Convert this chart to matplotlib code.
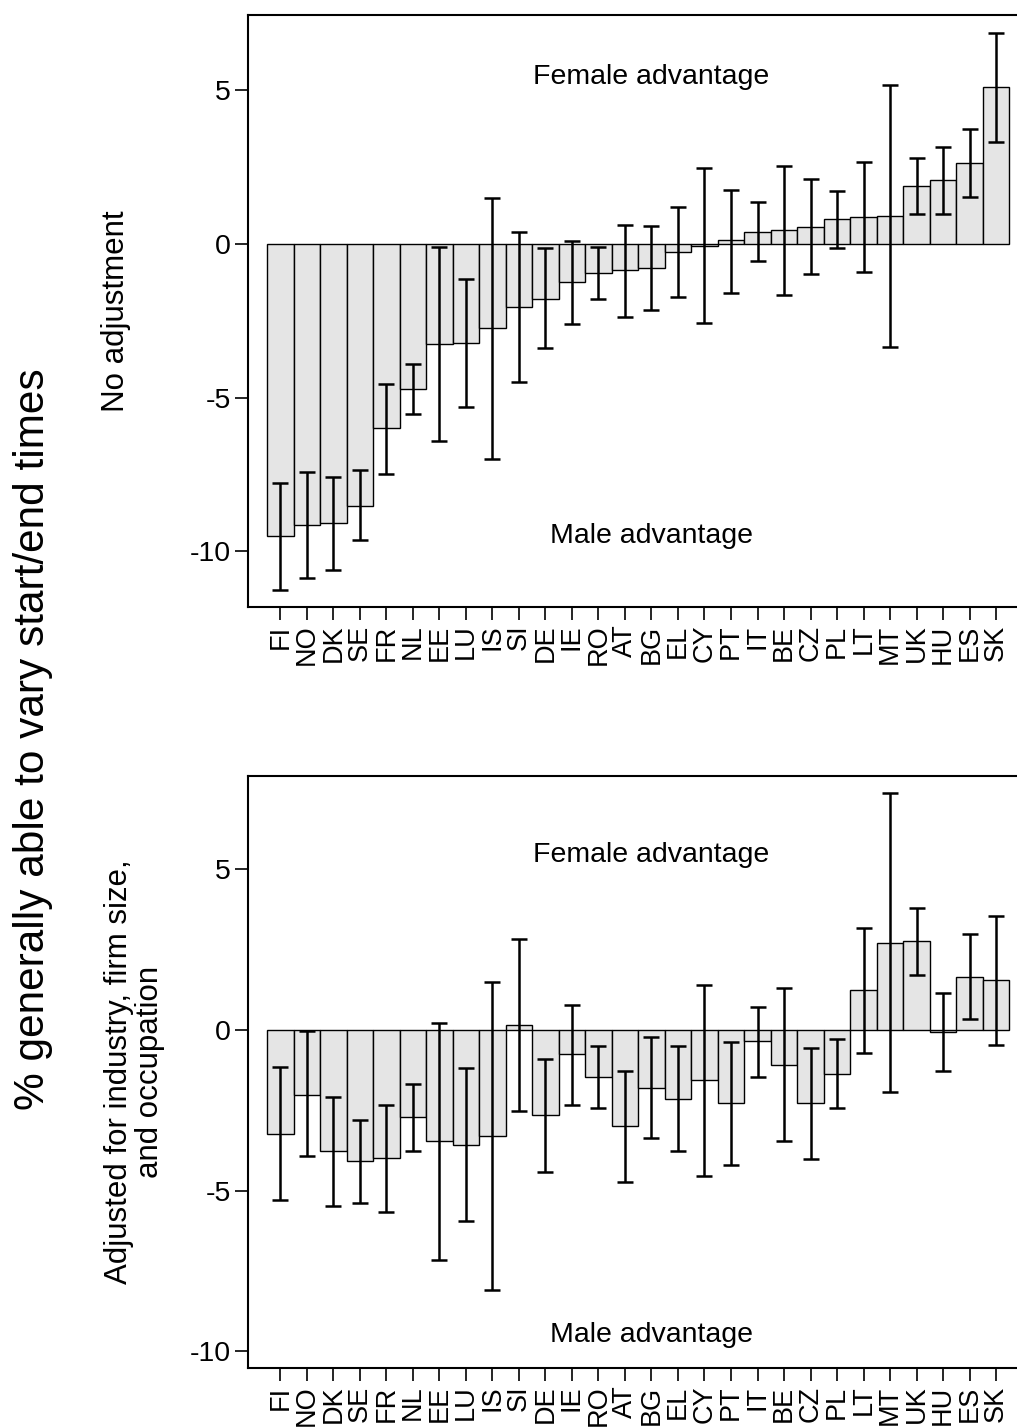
import numpy as np
import matplotlib
matplotlib.use('Agg')
import matplotlib.pyplot as plt

plt.rcParams['font.family'] = ['Liberation Sans', 'DejaVu Sans']
plt.rcParams['axes.unicode_minus'] = False

countries = ['FI', 'NO', 'DK', 'SE', 'FR', 'NL', 'EE', 'LU', 'IS', 'SI', 'DE', 'IE', 'RO', 'AT',
             'BG', 'EL', 'CY', 'PT', 'IT', 'BE', 'CZ', 'PL', 'LT', 'MT', 'UK', 'HU', 'ES', 'SK']

# no adjustment
gap_raw = [-9.51, -9.15, -9.08, -8.52, -6.00, -4.73, -3.26, -3.21, -2.73, -2.04, -1.80, -1.24, -0.94, -0.86,
           -0.79, -0.27, -0.06, 0.12, 0.39, 0.45, 0.55, 0.81, 0.88, 0.90, 1.89, 2.07, 2.64, 5.10]
lo_raw = [-11.25, -10.86, -10.61, -9.64, -7.49, -5.55, -6.42, -5.32, -7.00, -4.48, -3.40, -2.59, -1.80, -2.38,
          -2.16, -1.73, -2.56, -1.59, -0.54, -1.65, -0.98, -0.13, -0.91, -3.34, 0.99, 0.99, 1.53, 3.31]
hi_raw = [-7.77, -7.42, -7.58, -7.36, -4.55, -3.92, -0.09, -1.13, 1.51, 0.39, -0.14, 0.10, -0.10, 0.61,
          0.58, 1.20, 2.47, 1.75, 1.37, 2.54, 2.11, 1.73, 2.68, 5.18, 2.81, 3.16, 3.75, 6.87]

# adjusted for industry, firm size and occupation
gap_adj = [-3.23, -2.01, -3.78, -4.07, -4.00, -2.71, -3.47, -3.58, -3.31, 0.15, -2.65, -0.74, -1.45, -2.98,
           -1.80, -2.14, -1.56, -2.29, -0.35, -1.09, -2.26, -1.37, 1.24, 2.70, 2.78, -0.07, 1.64, 1.56]
lo_adj = [-5.28, -3.94, -5.48, -5.39, -5.68, -3.78, -7.15, -5.94, -8.10, -2.53, -4.43, -2.34, -2.42, -4.75,
          -3.35, -3.78, -4.55, -4.20, -1.45, -3.47, -4.03, -2.42, -0.73, -1.93, 1.70, -1.29, 0.35, -0.47]
hi_adj = [-1.14, -0.04, -2.09, -2.79, -2.35, -1.68, 0.21, -1.18, 1.49, 2.82, -0.90, 0.78, -0.49, -1.28,
          -0.23, -0.49, 1.41, -0.39, 0.70, 1.30, -0.55, -0.28, 3.19, 7.39, 3.80, 1.16, 2.98, 3.56]

yticks = [5, 0, -5, -10]


def draw_panel(ax, gap, lo, hi, ylim):
    x = np.arange(len(countries))
    gap = np.array(gap)
    yerr = [gap - np.array(lo), np.array(hi) - gap]
    ax.bar(x, gap, width=1.0, color='#e5e5e5', edgecolor='black', linewidth=1.0, zorder=2)
    ax.errorbar(x, gap, yerr=yerr, fmt='none', ecolor='black', elinewidth=1.8,
                capsize=6, capthick=1.8, zorder=3)
    ax.set_xlim(-1.22, 27.79)
    ax.set_ylim(*ylim)
    ax.set_xticks(x)
    ax.set_xticklabels(countries, rotation=90, fontsize=19.5, va='top')
    ax.set_yticks(yticks)
    ax.set_yticklabels([str(t) for t in yticks], fontsize=20.5)
    ax.tick_params(axis='both', direction='out', length=9.5, width=1.2, pad=3)
    ax.spines['right'].set_visible(False)
    for s in ['left', 'top', 'bottom']:
        ax.spines[s].set_linewidth(1.5)
    ax.text(14, 5.45, 'Female advantage', ha='center', va='center', fontsize=20.5)
    ax.text(14, -9.5, 'Male advantage', ha='center', va='center', fontsize=20.5)


fig = plt.figure(figsize=(10.17, 14.27), dpi=100)
ax1 = fig.add_axes([0.2439, 0.5746, 0.7561, 0.4152])
ax2 = fig.add_axes([0.2439, 0.0413, 0.7561, 0.4149])

draw_panel(ax1, gap_raw, lo_raw, hi_raw, (-11.82, 7.47))
draw_panel(ax2, gap_adj, lo_adj, hi_adj, (-10.53, 7.91))

fig.text(0.114, 0.782, 'No adjustment', rotation=90, ha='center', va='center', fontsize=22.5)
fig.text(0.132, 0.249, 'Adjusted for industry, firm size,\nand occupation', rotation=90,
         ha='center', va='center', fontsize=22.5, linespacing=1.05, multialignment='center')
fig.text(0.0325, 0.482, '% generally able to vary start/end times', rotation=90,
         ha='center', va='center', fontsize=30.5)

fig.savefig('out.png', dpi=100)
